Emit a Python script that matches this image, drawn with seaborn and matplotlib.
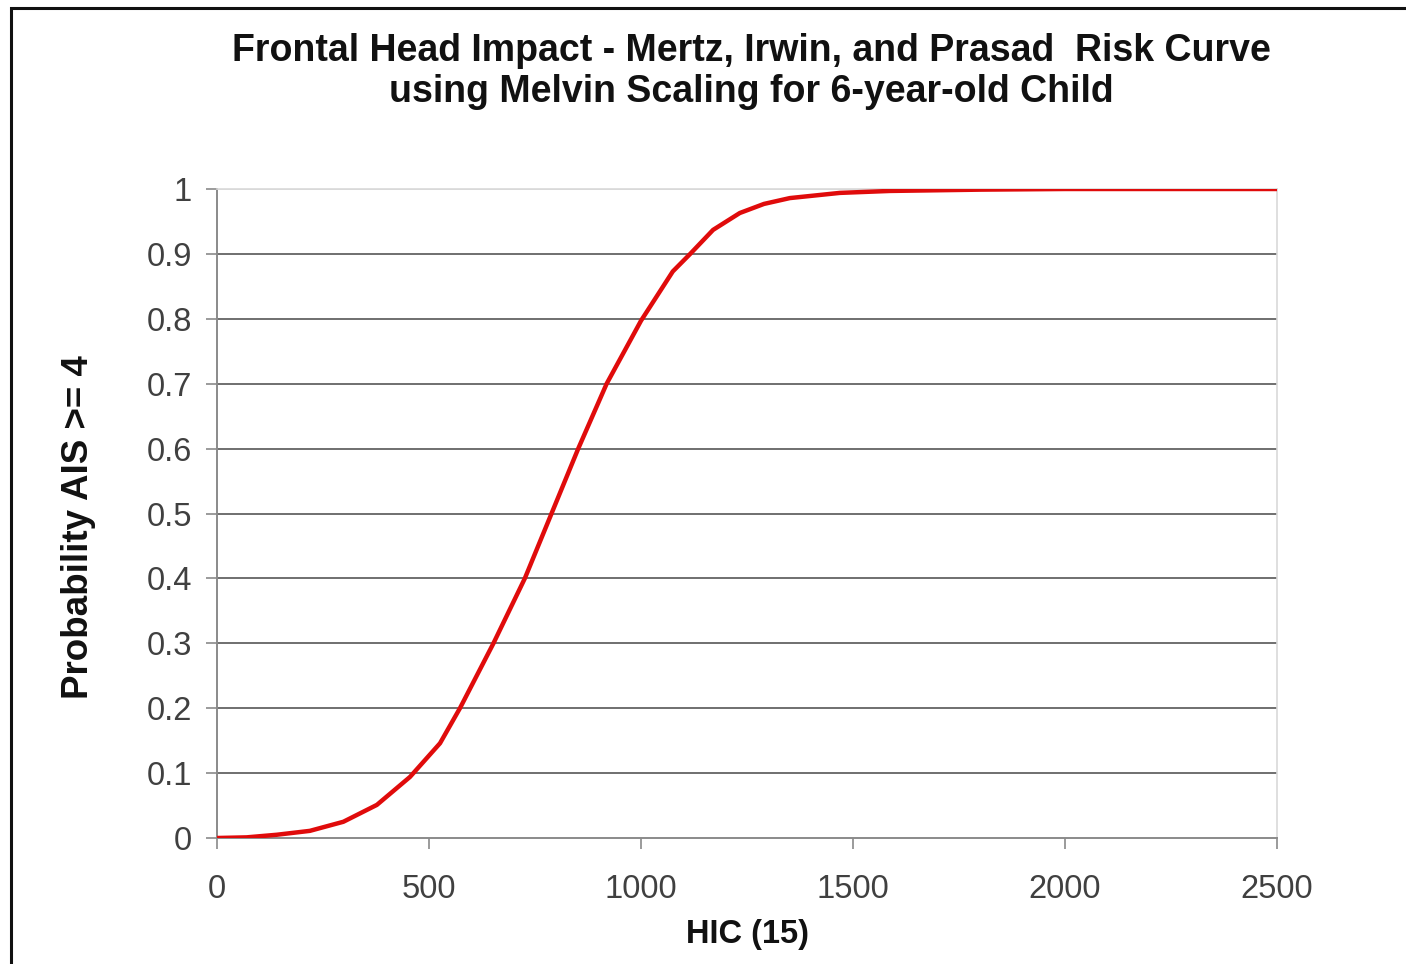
import matplotlib
matplotlib.use("Agg")
import matplotlib.pyplot as plt
import seaborn as sns
import pandas as pd
from matplotlib.patches import Rectangle

# Data
hic = [0, 70, 141, 219, 298, 377, 455, 526, 573, 652, 726, 789, 852, 919,
       1000, 1075, 1116, 1170, 1233, 1290, 1351, 1469, 1587, 1800, 2000, 2500]
prob = [0.0, 0.001, 0.005, 0.011, 0.025, 0.051, 0.094, 0.146, 0.20, 0.30,
        0.40, 0.50, 0.60, 0.70, 0.797, 0.873, 0.90, 0.937, 0.963, 0.977,
        0.986, 0.994, 0.997, 0.999, 1.0, 1.0]
x_ticks = [0, 500, 1000, 1500, 2000, 2500]
y_ticks = [0, 0.1, 0.2, 0.3, 0.4, 0.5, 0.6, 0.7, 0.8, 0.9, 1]
y_tick_labels = ["0", "0.1", "0.2", "0.3", "0.4", "0.5", "0.6", "0.7", "0.8", "0.9", "1"]
title = "Frontal Head Impact - Mertz, Irwin, and Prasad  Risk Curve\nusing Melvin Scaling for 6-year-old Child"
x_label = "HIC (15)"
y_label = "Probability AIS >= 4"

sns.set_style("white")
plt.rcParams['font.family'] = ['Liberation Sans', 'DejaVu Sans']

df = pd.DataFrame({"HIC": hic, "P": prob})

fig = plt.figure(figsize=(14.06, 9.64), dpi=100)
ax = fig.add_axes([217/1406, 1 - 838/964, (1277-217)/1406, (838-189)/964])

sns.lineplot(data=df, x="HIC", y="P", color="#e00b0b", linewidth=3.2, ax=ax,
             zorder=5, solid_joinstyle="round", solid_capstyle="round")

ax.set_xlim(0, 2500)
ax.set_ylim(0, 1)
ax.set_xticks(x_ticks)
ax.set_xticklabels([str(t) for t in x_ticks])
ax.set_yticks(y_ticks)
ax.set_yticklabels(y_tick_labels)

ax.yaxis.grid(True, color="#6f6f6f", linewidth=1.4)
ax.xaxis.grid(False)
gl = ax.get_ygridlines()
gl[-1].set_color("#d9d9d9")
gl[0].set_visible(False)

for s in ["left", "bottom"]:
    ax.spines[s].set_color("#8a8a8a")
    ax.spines[s].set_linewidth(1.4)
for s in ["top", "right"]:
    ax.spines[s].set_color("#d9d9d9")
    ax.spines[s].set_linewidth(1.2)

ax.tick_params(axis="both", which="major", direction="out", length=8, width=1.2,
               color="#8a8a8a", labelcolor="#404040", labelsize=23.5)
ax.tick_params(axis="y", pad=10)
ax.tick_params(axis="x", pad=18)
ax.tick_params(left=True, bottom=True)

ax.set_xlabel(x_label, fontsize=23.5, fontweight="bold", color="#111111", labelpad=10)
ax.set_ylabel(y_label, fontsize=26.5, fontweight="bold", color="#111111", labelpad=36)
ax.yaxis.label.set_y(0.479)

fig.text(751/1406, 1 - 71.5/964, title, ha="center", va="center", fontsize=27,
         fontweight="bold", color="#111111", linespacing=1.2)

# outer frame
fig.patches.append(Rectangle((11/1406, -0.01), 1.2, 1 - 8/964 + 0.01,
                             transform=fig.transFigure, fill=False,
                             edgecolor="#111111", linewidth=2.2))

fig.savefig("out.png", dpi=100)
